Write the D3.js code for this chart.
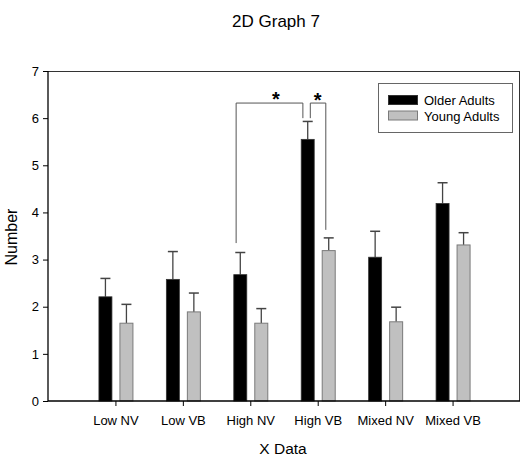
<!DOCTYPE html>
<html>
<head>
<meta charset="utf-8">
<script src="https://cdn.jsdelivr.net/npm/d3@7"></script>
<style>
  html, body { margin: 0; padding: 0; background: #fff; }
  svg { display: block; font-family: "Liberation Sans", Arial, sans-serif; }
</style>
</head>
<body>
<svg id="chart" width="523" height="460"></svg>
<script>
// ---- data ----
const categories = ["Low NV", "Low VB", "High NV", "High VB", "Mixed NV", "Mixed VB"];
const olderValues = [2.21, 2.58, 2.68, 5.55, 3.05, 4.19];
const olderErrors = [0.39, 0.59, 0.47, 0.38, 0.55, 0.44];
const youngValues = [1.65, 1.89, 1.65, 3.19, 1.68, 3.31];
const youngErrors = [0.40, 0.40, 0.31, 0.27, 0.31, 0.26];
const seriesNames = ["Older Adults", "Young Adults"];
const yTicks = [0, 1, 2, 3, 4, 5, 6, 7];
// significance brackets: [x-left, y-left-bottom, x-right, y-right-bottom, y-top] in data units
const brackets = [
  { x1: 2.79, y1: 3.35, x2: 3.78, y2: 6.0, top: 6.32 },
  { x1: 3.89, y1: 6.0, x2: 4.12, y2: 3.63, top: 6.32 }
];
const stars = [{ x: 3.38, y: 6.52 }, { x: 4.0, y: 6.50 }];

// ---- layout ----
const svg = d3.select("#chart");
const L = 48, R = 520, T = 71, B = 401;
const x = d3.scaleLinear().domain([0, 7]).range([L, R]);
const y = d3.scaleLinear().domain([0, 7]).range([B, T]);
const barW = 13;

// frame (top and right)
svg.append("line").attr("x1", L).attr("x2", R).attr("y1", T + 0.5).attr("y2", T + 0.5)
  .attr("stroke", "#333").attr("stroke-width", 1);
svg.append("line").attr("x1", R - 0.5).attr("x2", R - 0.5).attr("y1", T).attr("y2", B)
  .attr("stroke", "#333").attr("stroke-width", 1);

// bars
const data = categories.map((c, i) => ({
  c, i,
  o: olderValues[i], oe: olderErrors[i],
  yv: youngValues[i], ye: youngErrors[i]
}));

const g = svg.append("g");
// error bars (upward only)
function errBar(cx, v, e) {
  g.append("line").attr("x1", cx).attr("x2", cx).attr("y1", y(v)).attr("y2", y(v + e))
    .attr("stroke", "#444").attr("stroke-width", 1.3);
  g.append("line").attr("x1", cx - 5).attr("x2", cx + 5).attr("y1", y(v + e)).attr("y2", y(v + e))
    .attr("stroke", "#444").attr("stroke-width", 1.5);
}
data.forEach(d => {
  const cx = x(d.i + 1);
  const ox = cx - 16.5, yx = cx + 4.5;
  errBar(ox + barW / 2, d.o, d.oe);
  errBar(yx + barW / 2, d.yv, d.ye);
  g.append("rect").attr("x", ox).attr("y", y(d.o)).attr("width", barW).attr("height", y(0) - y(d.o))
    .attr("fill", "#000").attr("stroke", "#333").attr("stroke-width", 0.8);
  g.append("rect").attr("x", yx).attr("y", y(d.yv)).attr("width", barW).attr("height", y(0) - y(d.yv))
    .attr("fill", "#c0c0c0").attr("stroke", "#7a7a7a").attr("stroke-width", 1);
});

// brackets
brackets.forEach(b => {
  svg.append("path")
    .attr("d", `M${x(b.x1)},${y(b.y1)} V${y(b.top)} H${x(b.x2)} V${y(b.y2)}`)
    .attr("fill", "none").attr("stroke", "#555").attr("stroke-width", 1);
});
stars.forEach(s => {
  svg.append("text").attr("x", x(s.x)).attr("y", y(s.y) + 12).attr("text-anchor", "middle")
    .attr("font-size", 20).attr("font-weight", "bold").text("*");
});

// axes
const yAxis = d3.axisLeft(y).tickValues(yTicks).tickSize(5).tickPadding(4).tickFormat(d3.format("d"));
const ya = svg.append("g").attr("transform", `translate(${L},0)`).call(yAxis);
const xAxis = d3.axisBottom(x).tickValues(d3.range(1, categories.length + 1)).tickSize(5).tickPadding(10)
  .tickFormat(d => categories[d - 1]);
const xa = svg.append("g").attr("transform", `translate(0,${B})`).call(xAxis);
[ya, xa].forEach(a => {
  a.select(".domain").attr("stroke", "#000").attr("stroke-width", 1.3);
  a.selectAll(".tick line").attr("stroke", "#000");
  a.selectAll(".tick text").attr("font-size", 13).attr("fill", "#000")
    .attr("font-family", "Liberation Sans, Arial, sans-serif");
});
xa.select(".domain").attr("d", `M${L},0H${R}`);
ya.select(".domain").attr("d", `M0,${B}V${T}`);

// titles
svg.append("text").attr("x", 276).attr("y", 27).attr("text-anchor", "middle")
  .attr("font-size", 17).text("2D Graph 7");
svg.append("text").attr("x", 283).attr("y", 454).attr("text-anchor", "middle")
  .attr("font-size", 15.5).text("X Data");
svg.append("text").attr("transform", "translate(17,237) rotate(-90)").attr("text-anchor", "middle")
  .attr("font-size", 16).text("Number");

// legend
const lg = svg.append("g");
lg.append("rect").attr("x", 378.5).attr("y", 83.5).attr("width", 134).attr("height", 49)
  .attr("fill", "#fff").attr("stroke", "#666").attr("stroke-width", 1);
const swFill = ["#000", "#c0c0c0"], swStroke = ["#333", "#7a7a7a"];
seriesNames.forEach((n, i) => {
  lg.append("rect").attr("x", 388.5).attr("y", 95.5 + i * 15.5).attr("width", 29).attr("height", 9)
    .attr("fill", swFill[i]).attr("stroke", swStroke[i]);
  lg.append("text").attr("x", 424).attr("y", 105 + i * 15.5).attr("font-size", 13).text(n);
});
</script>
</body>
</html>
